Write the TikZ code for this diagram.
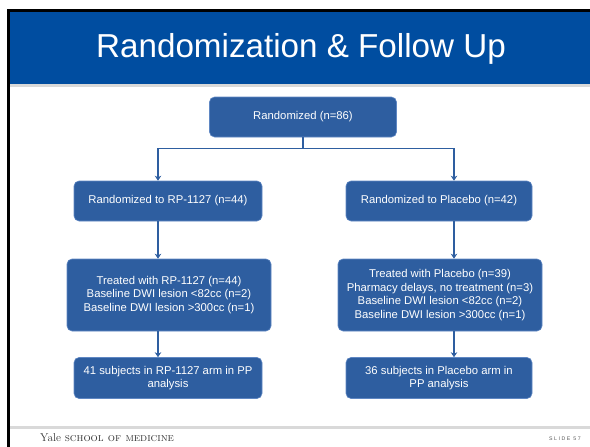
\documentclass[tikz,border=0pt]{standalone}
\usepackage{xcolor}
\definecolor{yaleblue}{RGB}{0,77,160}
\definecolor{boxblue}{RGB}{46,94,160}
\definecolor{boxedge}{RGB}{95,135,195}
\definecolor{rulegray}{RGB}{217,217,217}
\usepackage{fontspec}
\newfontfamily\arial{Liberation Sans}
\newfontfamily\slidefont[LetterSpace=30]{Liberation Sans}
\usepackage{tikz}
\usetikzlibrary{arrows.meta}

\begin{document}
\begin{tikzpicture}[x=1pt,y=-1pt,
  stage/.style={draw=boxedge,line width=0.6pt,fill=boxblue,rounded corners=5pt,
    text=white,font=\arial\fontsize{11.3}{13.5}\selectfont,align=center,inner sep=0pt},
  flow/.style={draw=boxblue,line width=1.3pt,-{Stealth[length=5pt,width=6.5pt]}}]
\useasboundingbox (0,0) rectangle (590,447);
% slide frame
\fill[yaleblue] (10,11) rectangle (590,84);
\fill[rulegray] (10,84) rectangle (590,87);
\fill[rulegray] (10,426) rectangle (590,429);
\draw[black,line width=2.6pt] (8.7,447) -- (8.7,10.3) -- (590,10.3);
\node[anchor=base,text=white,font=\arial\fontsize{33.2}{38}\selectfont] (title) at (301,57) {Randomization \& Follow Up};
\node[anchor=base west,text=black!80,font=\fontsize{11.3}{13}\selectfont,inner sep=0pt] (yale) at (40,441) {Yale \textsc{school of medicine}};
\node[anchor=base east,text=black!65,font=\slidefont\fontsize{5.2}{6}\selectfont,inner sep=0pt] (slide) at (581,440) {SLIDE 57};

% flow chart
\node[stage,minimum width=187pt,minimum height=40pt] (rand) at (303,117) {Randomized (n=86)};
\node[stage,minimum width=188pt,minimum height=40pt] (armA) at (168,201) {Randomized to RP-1127 (n=44)};
\node[stage,minimum width=186pt,minimum height=40pt] (armB) at (439,201) {Randomized to Placebo (n=42)};
\node[stage,minimum width=204pt,minimum height=72pt] (treatA) at (169,295) {Treated with RP-1127 (n=44)\\Baseline DWI lesion <82cc (n=2)\\Baseline DWI lesion >300cc (n=1)};
\node[stage,minimum width=204pt,minimum height=72pt] (treatB) at (440,295) {Treated with Placebo (n=39)\\Pharmacy delays, no treatment (n=3)\\Baseline DWI lesion <82cc (n=2)\\Baseline DWI lesion >300cc (n=1)};
\node[stage,minimum width=188pt,minimum height=41pt] (finalA) at (168,378) {41 subjects in RP-1127 arm in PP\\analysis};
\node[stage,minimum width=186pt,minimum height=41pt] (finalB) at (439,378) {36 subjects in Placebo arm in\\PP analysis};

\draw[draw=boxblue,line width=1.3pt] (rand.south) -- ++(0,11) coordinate (split);
\draw[flow] (split) -| ([xshift=-10pt]armA.north);
\draw[flow] (split) -| ([xshift=15pt]armB.north);
\draw[flow] ([xshift=-10pt]armA.south) -- ([xshift=-10pt]armA.south |- treatA.north);
\draw[flow] ([xshift=15pt]armB.south) -- ([xshift=15pt]armB.south |- treatB.north);
\draw[flow] ([xshift=-10pt]armA.south |- treatA.south) -- ([xshift=-10pt]armA.south |- finalA.north);
\draw[flow] ([xshift=15pt]armB.south |- treatB.south) -- ([xshift=15pt]armB.south |- finalB.north);
\end{tikzpicture}
\end{document}
